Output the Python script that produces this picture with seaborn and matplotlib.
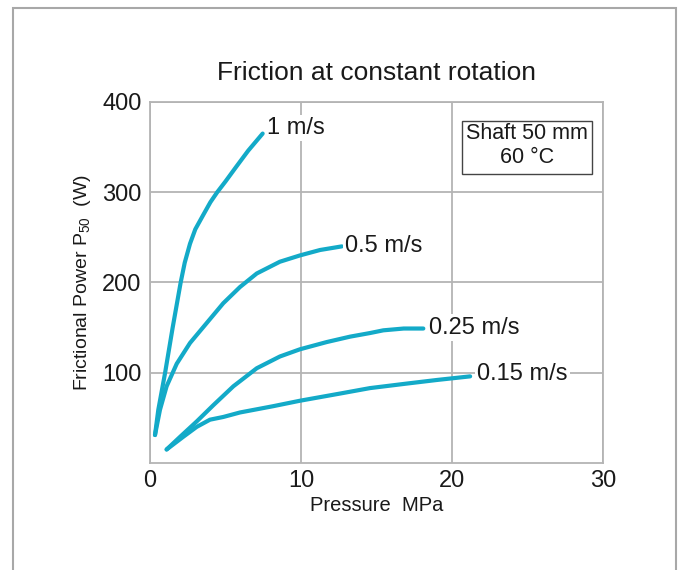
import matplotlib
matplotlib.use("Agg")
import matplotlib.pyplot as plt
import seaborn as sns
import pandas as pd
from matplotlib.patches import Rectangle

# curves (pressure MPa, frictional power W)
p_1 = [0.33, 0.55, 1.0, 1.5, 2.03, 2.3, 2.65, 3.0, 3.53, 4.0, 4.45, 5.0, 5.7, 6.5, 7.46]
w_1 = [31, 59, 100, 150, 200, 222, 243, 259, 275, 289, 300, 312, 328, 346, 365]

p_05 = [0.33, 0.66, 1.1, 1.77, 2.65, 3.75, 4.85, 5.96, 7.07, 8.6, 9.93, 11.26, 12.7]
w_05 = [31, 59, 85, 110, 133, 155, 177, 195, 210, 223, 230, 236, 240]

p_025 = [1.1, 1.99, 3.09, 4.19, 5.52, 7.07, 8.6, 9.93, 11.7, 13.25, 14.57, 15.45, 16.8, 18.1]
w_025 = [15, 29, 46, 64, 85, 105, 118, 126, 134, 140, 144, 147, 149, 149]

p_015 = [1.1, 2.2, 3.09, 3.97, 4.85, 5.96, 8.17, 9.93, 12.6, 14.57, 17.0, 19.0, 21.2]
w_015 = [15, 29, 40, 48, 51, 56, 63, 69, 77, 83, 88, 92, 96]

speeds = ["1 m/s", "0.5 m/s", "0.25 m/s", "0.15 m/s"]
label_x = [7.75, 12.9, 18.5, 21.65]
label_y = [371, 240, 150, 99]

frames = []
for name, px, wy in zip(speeds, [p_1, p_05, p_025, p_015], [w_1, w_05, w_025, w_015]):
    frames.append(pd.DataFrame({"Pressure": px, "Power": wy, "Speed": name}))
df = pd.concat(frames, ignore_index=True)

sns.set_theme(style="white")
plt.rcParams["font.family"] = ["Liberation Sans", "DejaVu Sans"]

line_color = "#13aac8"
grid_color = "#b4b4b4"
text_color = "#1a1a1a"

fig = plt.figure(figsize=(6.8, 5.7), dpi=100)
ax = fig.add_axes([0.2206, 0.1877, 0.6662, 0.6334])

sns.lineplot(data=df, x="Pressure", y="Power", hue="Speed", units="Speed",
             estimator=None, palette=[line_color] * 4, linewidth=3.0,
             legend=False, ax=ax, zorder=3,
             solid_joinstyle="round", solid_capstyle="round")

ax.set_xlim(0, 30)
ax.set_ylim(0, 400)
ax.set_xticks([0, 10, 20, 30])
ax.set_yticks([100, 200, 300, 400])
ax.grid(True, color=grid_color, linewidth=1.3)
ax.set_axisbelow(True)
for s in ax.spines.values():
    s.set_color(grid_color)
    s.set_linewidth(1.3)
ax.tick_params(length=0, labelsize=17, colors=text_color)
ax.tick_params(axis="x", pad=5)
ax.tick_params(axis="y", pad=6)

ax.set_xlabel("Pressure  MPa", fontsize=14.5, color=text_color, labelpad=3)
ax.set_ylabel(r"Frictional Power $\mathregular{P_{50}}$  (W)", fontsize=14,
              color=text_color, labelpad=7)
ax.set_title("Friction at constant rotation", fontsize=19, color=text_color, pad=16)

for name, lx, ly in zip(speeds, label_x, label_y):
    ax.text(lx, ly, name, fontsize=17, color=text_color, va="center", ha="left",
            zorder=4, bbox=dict(facecolor="white", edgecolor="none", pad=1.5))

# condition box
ax.add_patch(Rectangle((20.66, 320), 8.61, 59, facecolor="white",
                       edgecolor="#444444", linewidth=1.0, zorder=4))
ax.text(24.97, 365.6, "Shaft 50 mm", ha="center", va="center", fontsize=15.5,
        color=text_color, zorder=5)
ax.text(24.97, 338, "60 \u00b0C", ha="center", va="center", fontsize=15.5,
        color=text_color, zorder=5)

# outer frame of the figure panel
fig.patches.append(Rectangle((13 / 680, -0.02), 663 / 680, 1.006, transform=fig.transFigure,
                             fill=False, edgecolor="#a8a8a8", linewidth=1.5))

fig.savefig("out.png", dpi=100)
